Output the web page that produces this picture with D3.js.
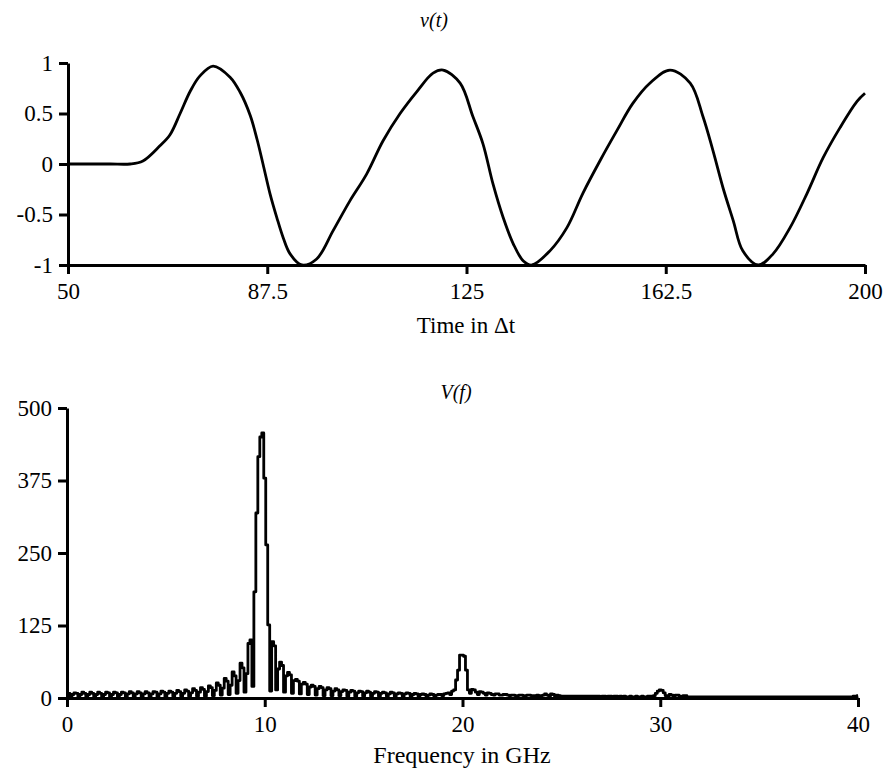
<!DOCTYPE html>
<html lang="en">
<head>
  <meta charset="utf-8">
  <title>v(t) and V(f)</title>
  <script src="https://cdnjs.cloudflare.com/ajax/libs/d3/7.8.5/d3.min.js"></script>
  <style>
    body { margin: 0; background: #fff; }
    svg text { font-family: "Liberation Serif", "Times New Roman", serif; fill: #000; }
    .axis path, .axis line { stroke: #000; stroke-width: 3px; }
    .axis text { font-size: 23px; }
  </style>
</head>
<body>
<div id="ChartArea"></div>
<script>
// ---- time domain v(t) ----
const timeSteps = [50, 54, 58, 61.7, 64.1, 67.3, 69.2, 71.1, 73, 74.8, 77.3, 80.5, 82.4, 84.3, 85.6, 86.7, 88, 89.3, 90.5, 91.8, 94,
  96.8, 99.9, 103, 106.2, 109.3, 112.5, 115.7, 118.7, 120.6, 123.8, 126.2, 128.1, 130, 131.9, 133.8, 135.7, 137.3,
  140.7, 143.9, 146.9, 150.1, 153.3, 156.3, 159.5, 163.3, 167.1, 169.5, 171.4, 173.3, 175.2, 177, 179.9,
  182.7, 185.9, 189.1, 192.1, 195.3, 198.5, 200];
const voltage = [0, 0, 0, 0, 0.03, 0.18, 0.29, 0.5, 0.72, 0.87, 0.97, 0.86, 0.71, 0.48, 0.24, 0.0, -0.29, -0.53, -0.73, -0.89, -1.0,
  -0.94, -0.66, -0.37, -0.1, 0.23, 0.5, 0.72, 0.9, 0.93, 0.8, 0.47, 0.2, -0.2, -0.53, -0.79, -0.96, -1.0,
  -0.86, -0.63, -0.29, 0.03, 0.33, 0.6, 0.8, 0.93, 0.8, 0.47, 0.13, -0.24, -0.56, -0.86, -1.0,
  -0.89, -0.63, -0.29, 0.06, 0.36, 0.62, 0.70];
const timeTicks = [50, 87.5, 125, 162.5, 200];
const voltTicks = [-1, -0.5, 0, 0.5, 1];

// ---- spectrum V(f), one value every 0.1 GHz from 0 to 40 ----
const freqStep = 0.1;
const spectrum = [
  9,8,2,6, 9,8,2,6, 10,8,2,6, 10,8,2,6, 10,8,2,6,
  10,9,2,6, 10,9,2,6, 10,9,2,7, 11,9,2,7, 11,9,2,7,
  11,9,2,7, 11,10,2,7, 12,10,2,8, 12,10,3,8, 13,11,3,8,
  14,12,3,9, 16,13,3,10, 18,15,3,11, 21,18,4,13, 26,22,5,17,
  34,29,6,22, 45,38,8,30, 60,52,10,42, 94,100,20,183, 319,416,450,457,
  379,264,126,12, 97,90,14,50, 62,56,10,38, 44,40,8,30, 32,29,7,24,
  27,24,6,19, 22,20,5,16, 20,18,4,14, 18,16,4,12, 16,14,4,11,
  14,13,3,10, 13,12,3,9, 12,11,3,9, 12,10,3,8, 11,10,3,8,
  10,9,3,7, 10,9,3,7, 9,8,3,7, 9,8,3,6, 8,7,3,6,
  7,6,3,5, 7,6,3,5, 6,6,4,7, 8,9,6,12, 14,31,48,74,
  74,72,48,14, 8,15,14,10, 6,11,10,8, 5,9,8,6, 5,7,7,5,
  5,6,6,5, 4,5,5,4, 4,5,5,4, 4,5,5,4, 4,4,5,4,
  4,5,7,5, 3,7,6,3, 5,4,3,3, 3,3,3,3, 3,3,3,3,
  3,3,3,3, 3,3,3,3, 3,3,2,3, 3,2,3,3, 2,3,3,2,
  3,2,3,2, 2,3,2,2, 3,2,2,3, 2,2,3,3, 3,4,8,12,
  14,13,9,4, 3,6,5,2, 5,5,3,2, 4,4,2,2, 2,2,2,2,
  2,2,2,2, 2,2,2,2, 2,2,2,2, 2,2,2,2, 2,2,2,2,
  2,2,2,2, 2,2,2,2, 2,2,2,2, 2,2,2,2, 2,2,2,2,
  2,2,2,2, 2,2,2,2, 2,2,2,2, 2,2,2,2, 2,2,2,2,
  2,2,2,2, 2,2,2,2, 2,2,2,2, 2,2,2,2, 2,2,3,3,
  4];
const freqTicks = [0, 10, 20, 30, 40];
const magTicks = [0, 125, 250, 375, 500];

const svg = d3.select("#ChartArea").append("svg")
  .attr("width", 886)
  .attr("height", 771);

// draws one panel: axes, title, axis label and the curve
function drawPanel(opt) {
  const x = d3.scaleLinear().domain(opt.xDomain).range(opt.xRange);
  const y = d3.scaleLinear().domain(opt.yDomain).range(opt.yRange);

  svg.append("g")
    .attr("class", "axis")
    .attr("transform", "translate(0," + opt.yRange[0] + ")")
    .call(d3.axisBottom(x).tickValues(opt.xTicks).tickSize(9).tickSizeOuter(0).tickPadding(9)
      .tickFormat(d => String(d)));

  svg.append("g")
    .attr("class", "axis")
    .attr("transform", "translate(" + opt.xRange[0] + ",0)")
    .call(d3.axisLeft(y).tickValues(opt.yTicks).tickSize(9).tickSizeOuter(0).tickPadding(6)
      .tickFormat(d => String(d)));

  // curve
  const line = d3.line()
    .x(d => x(d[0]))
    .y(d => y(d[1]))
    .curve(opt.curve);

  svg.append("path")
    .datum(opt.points)
    .attr("fill", "none")
    .attr("stroke", "#000")
    .attr("stroke-width", 2.8)
    .attr("stroke-linejoin", "round")
    .attr("d", line);

  // title and x label
  svg.append("text")
    .attr("x", opt.titlePos[0]).attr("y", opt.titlePos[1])
    .attr("text-anchor", "middle")
    .style("font-style", "italic")
    .style("font-size", "20px")
    .text(opt.title);

  svg.append("text")
    .attr("x", opt.labelPos[0]).attr("y", opt.labelPos[1])
    .attr("text-anchor", "middle")
    .style("font-size", opt.labelSize)
    .text(opt.label);
}

drawPanel({
  xDomain: [50, 200], xRange: [68, 865],
  yDomain: [-1, 1], yRange: [265, 63],
  xTicks: timeTicks, yTicks: voltTicks,
  points: timeSteps.map((t, i) => [t, voltage[i]]),
  curve: d3.curveCatmullRom.alpha(0.5),
  title: "v(t)", titlePos: [434, 27],
  label: "Time in \u0394t", labelPos: [466, 333], labelSize: "23px"
});

drawPanel({
  xDomain: [0, 40], xRange: [67, 858],
  yDomain: [0, 500], yRange: [698, 408],
  xTicks: freqTicks, yTicks: magTicks,
  points: spectrum.map((v, i) => [i * freqStep, v]),
  curve: d3.curveStep,
  title: "V(f)", titlePos: [456, 399],
  label: "Frequency in GHz", labelPos: [462, 763], labelSize: "24px"
});
</script>
</body>
</html>
